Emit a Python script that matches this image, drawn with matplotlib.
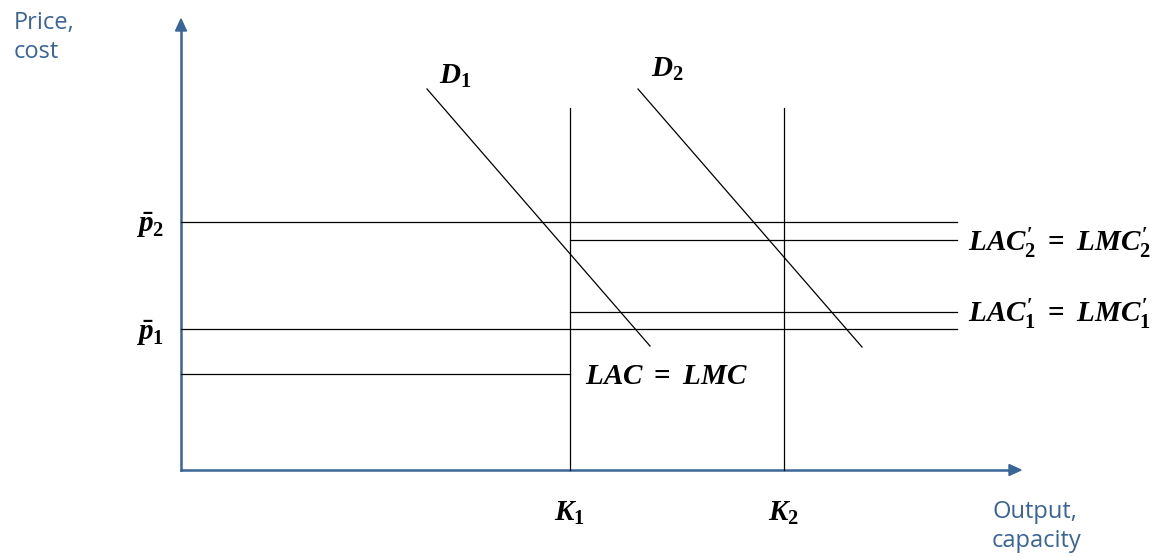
import matplotlib.pyplot as plt
from matplotlib.patches import FancyArrow

plt.rcParams['mathtext.fontset'] = 'custom'
plt.rcParams['mathtext.rm'] = 'Liberation Serif:bold'
plt.rcParams['mathtext.it'] = 'Liberation Serif:italic:bold'
plt.rcParams['mathtext.bf'] = 'Liberation Serif:bold'

# Coordonnées du diagramme (origine au croisement des axes)
axis_x_end = 840
axis_y_end = 451

# Prix : niveaux horizontaux p̄2, p̄1
price_levels = [248, 141]
price_labels = [r'$\bar{p}_2$', r'$\bar{p}_1$']
price_label_y = [245, 137]
price_x_end = 776

# Coûts : LAC2', LAC1', LAC
cost_levels = [230, 158, 96]
cost_x_start = [389, 389, 0]
cost_x_end = [776, 776, 389]
cost_labels = [r"$LAC_2'\ =\ LMC_2'$", r"$LAC_1'\ =\ LMC_1'$", r'$LAC\ =\ LMC$']
cost_label_pos = [(787, 227), (787, 156), (404, 94)]

# Capacités
capacities = [389, 603]
cap_labels = ['$K_1$', '$K_2$']
cap_top = 362

# Courbes de demande
demand_x = [[246, 469], [457, 681]]
demand_y = [[381, 124], [381, 123]]
demand_labels = ['$D_1$', '$D_2$']
demand_label_pos = [(258, 394), (470, 401)]

axis_color = '#3a6597'

fig = plt.figure(figsize=(11.71, 5.57), dpi=100)
ax = fig.add_axes([0, 0, 1, 1])
ax.set_xlim(-181, 990)
ax.set_ylim(-87, 470)
ax.axis('off')

# Axes avec flèches
ax.plot([0, 0], [0, axis_y_end - 10], color=axis_color, lw=1.8)
ax.plot([0, axis_x_end - 10], [0, 0], color=axis_color, lw=1.8)
ax.add_patch(FancyArrow(0, axis_y_end - 12, 0, 12, width=0, head_width=11,
                        head_length=12, length_includes_head=True,
                        color=axis_color))
ax.add_patch(FancyArrow(axis_x_end - 12, 0, 12, 0, width=0, head_width=11,
                        head_length=12, length_includes_head=True,
                        color=axis_color))

# Lignes de prix
for lvl, ly, lab in zip(price_levels, price_label_y, price_labels):
    ax.plot([0, price_x_end], [lvl, lvl], color='black', lw=0.9)
    ax.text(-45, ly, lab, fontsize=21, ha='left', va='center')

# Lignes de coûts
for lvl, x0, x1, lab, pos in zip(cost_levels, cost_x_start, cost_x_end,
                                 cost_labels, cost_label_pos):
    ax.plot([x0, x1], [lvl, lvl], color='black', lw=0.9)
    ax.text(pos[0], pos[1], lab, fontsize=21, ha='left', va='center')

# Capacités
for k, lab in zip(capacities, cap_labels):
    ax.plot([k, k], [0, cap_top], color='black', lw=0.9)
    ax.text(k - 16, -43, lab, fontsize=21, ha='left', va='center')

# Demande
for xs, ys, lab, pos in zip(demand_x, demand_y, demand_labels, demand_label_pos):
    ax.plot(xs, ys, color='black', lw=0.9)
    ax.text(pos[0], pos[1], lab, fontsize=21, ha='left', va='center')

# Titres des axes
ax.text(-167, 459, 'Price,\ncost', fontsize=17, color=axis_color,
        family='Open Sans', ha='left', va='top', linespacing=1.3)
ax.text(811, -30, 'Output,\ncapacity', fontsize=17, color=axis_color,
        family='Open Sans', ha='left', va='top', linespacing=1.3)

fig.savefig('out.png', dpi=100)
